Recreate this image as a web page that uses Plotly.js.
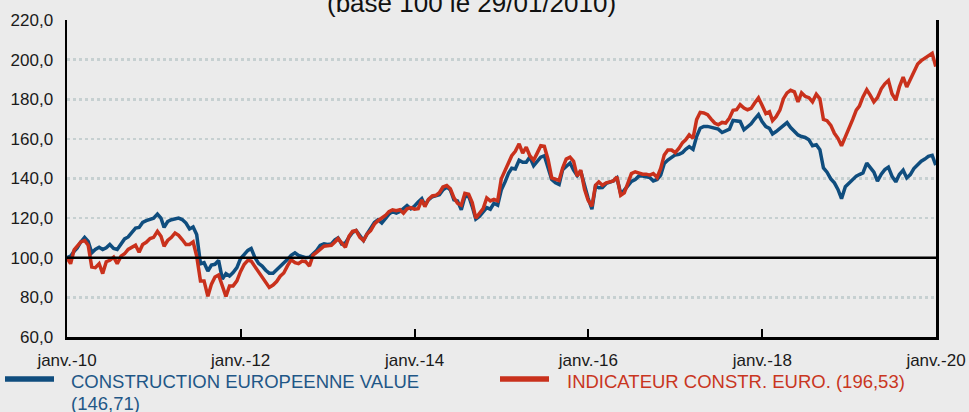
<!DOCTYPE html>
<html>
<head>
<meta charset="utf-8">
<script src="https://cdn.plot.ly/plotly-3.0.1.min.js"></script>
<style>html,body{margin:0;padding:0;background:#ebebeb;}#chart{width:969px;height:412px;}</style>
</head>
<body>
<div id="chart"></div>
<script>
const dates = [
"2010-01-29","2010-02-13","2010-02-28","2010-03-13","2010-03-28","2010-04-13","2010-04-28","2010-05-13","2010-05-28","2010-06-13","2010-06-28","2010-07-13","2010-07-28","2010-08-13","2010-08-28","2010-09-13","2010-09-28","2010-10-13","2010-10-28","2010-11-13","2010-11-28","2010-12-13","2010-12-28","2011-01-13",
"2011-01-28","2011-02-13","2011-02-28","2011-03-13","2011-03-28","2011-04-13","2011-04-28","2011-05-13","2011-05-28","2011-06-13","2011-06-28","2011-07-13","2011-07-28","2011-08-13","2011-08-28","2011-09-13","2011-09-28","2011-10-13","2011-10-28","2011-11-13","2011-11-28","2011-12-13","2011-12-28","2012-01-13",
"2012-01-28","2012-02-13","2012-02-28","2012-03-13","2012-03-28","2012-04-13","2012-04-28","2012-05-13","2012-05-28","2012-06-13","2012-06-28","2012-07-13","2012-07-28","2012-08-13","2012-08-28","2012-09-13","2012-09-28","2012-10-13","2012-10-28","2012-11-13","2012-11-28","2012-12-13","2012-12-28","2013-01-13",
"2013-01-28","2013-02-13","2013-02-28","2013-03-13","2013-03-28","2013-04-13","2013-04-28","2013-05-13","2013-05-28","2013-06-13","2013-06-28","2013-07-13","2013-07-28","2013-08-13","2013-08-28","2013-09-13","2013-09-28","2013-10-13","2013-10-28","2013-11-13","2013-11-28","2013-12-13","2013-12-28","2014-01-13",
"2014-01-28","2014-02-13","2014-02-28","2014-03-13","2014-03-28","2014-04-13","2014-04-28","2014-05-13","2014-05-28","2014-06-13","2014-06-28","2014-07-13","2014-07-28","2014-08-13","2014-08-28","2014-09-13","2014-09-28","2014-10-13","2014-10-28","2014-11-13","2014-11-28","2014-12-13","2014-12-28","2015-01-13",
"2015-01-28","2015-02-13","2015-02-28","2015-03-13","2015-03-28","2015-04-13","2015-04-28","2015-05-13","2015-05-28","2015-06-13","2015-06-28","2015-07-13","2015-07-28","2015-08-13","2015-08-28","2015-09-13","2015-09-28","2015-10-13","2015-10-28","2015-11-13","2015-11-28","2015-12-13","2015-12-28","2016-01-13",
"2016-01-28","2016-02-13","2016-02-28","2016-03-13","2016-03-28","2016-04-13","2016-04-28","2016-05-13","2016-05-28","2016-06-13","2016-06-28","2016-07-13","2016-07-28","2016-08-13","2016-08-28","2016-09-13","2016-09-28","2016-10-13","2016-10-28","2016-11-13","2016-11-28","2016-12-13","2016-12-28","2017-01-13",
"2017-01-28","2017-02-13","2017-02-28","2017-03-13","2017-03-28","2017-04-13","2017-04-28","2017-05-13","2017-05-28","2017-06-13","2017-06-28","2017-07-13","2017-07-28","2017-08-13","2017-08-28","2017-09-13","2017-09-28","2017-10-13","2017-10-28","2017-11-13","2017-11-28","2017-12-13","2017-12-28","2018-01-13",
"2018-01-28","2018-02-13","2018-02-28","2018-03-13","2018-03-28","2018-04-13","2018-04-28","2018-05-13","2018-05-28","2018-06-13","2018-06-28","2018-07-13","2018-07-28","2018-08-13","2018-08-28","2018-09-13","2018-09-28","2018-10-13","2018-10-28","2018-11-13","2018-11-28","2018-12-13","2018-12-28","2019-01-13",
"2019-01-28","2019-02-13","2019-02-28","2019-03-13","2019-03-28","2019-04-13","2019-04-28","2019-05-13","2019-05-28","2019-06-13","2019-06-28","2019-07-13","2019-07-28","2019-08-13","2019-08-28","2019-09-13","2019-09-28","2019-10-13","2019-10-28","2019-11-13","2019-11-28","2019-12-13","2019-12-28","2020-01-13",
"2020-01-28"
];

const constructionValue = [
100,100.8,103.3,105,108,110.3,108.3,102.5,104.2,105.3,104.2,105,106.7,104.7,104.2,107,109.5,110.5,112.5,115,115.3,117.8,118.7,119.2,
120,122,120,115.3,118.3,119.2,119.5,120,119.3,117.5,114.5,115.5,111.7,97,97.5,93.3,96.3,96.7,98.7,89.2,92,90.8,92.5,95,
99.5,102,103.7,104.7,100.3,97.2,95.8,93.7,92.2,92.2,93.8,95.7,97.3,99.2,101.2,102.5,101.2,100.8,100,100.3,102,103.7,106.2,107,
106.7,107,109,110,107,107.5,110.3,112.8,113.8,111.3,108.7,112,115,117.8,119.2,117.5,119.7,122,123.3,122.5,123.3,125,126.3,124.7,
126,128.2,129.8,126.5,129.2,130.8,131.5,131.8,134.2,135.7,134.2,129.2,128.7,124.2,130.8,131.2,125.8,119.5,120.8,122.8,125.3,124.5,127.5,126.5,
134.2,138.3,142.8,145.2,144.8,149.2,148.2,148.2,150.8,146.5,148.7,150.8,151.5,144.8,139.5,137.8,137,144.5,146.2,147.8,144.2,141.5,143.7,136.2,
130,124.5,136.1,135.3,135.4,137.5,138.3,138.8,140.3,132.4,134.1,136.6,138.5,139.5,141.2,141.2,140.8,140.5,138.8,139.5,141.7,147.6,149.3,150.5,
151.9,152.2,153.1,154.7,156.1,154.7,161.2,165.4,166.3,166.3,165.8,165.4,164.9,163.2,164.1,164.9,169.3,169,168.8,164.6,166.3,167.6,170,172.2,
168.7,166.2,165.3,162.5,163.7,165.3,167.2,168.2,165.7,163.7,162,161.2,160.7,159.5,156.5,157,154.5,145.3,143.2,139.8,137.8,134.5,129.8,135.8,
137.5,139.2,141.2,142,142.8,147.8,145.3,143.2,138.7,142.2,144.5,145.7,141.2,138.3,142,144.2,140.3,142,145,147,148.7,149.8,151.2,151.7,
146.71
];

const indicateurConstr = [
100,97,104,105.8,108,108.7,106.3,95.3,95,97,92,98,98.7,100.3,97,100.8,102,104.2,105.3,106.3,102.8,106.7,107.8,109.7,
110.3,113.3,110.8,105.8,108.7,110.3,112.5,111.3,109.2,106.7,106.7,108,100.8,88.3,88.3,80.5,86.7,90.3,91.3,85,80.5,85.8,85.8,88.3,
93,96.7,98.7,98.3,95.8,93,90,87.5,85,86.2,88,90.7,92.3,96,99,97.5,97,98.3,98,95.8,101.3,102.7,104.2,105.8,
106,106.3,108,109.7,107.5,105.3,110.8,113.3,113.7,110.3,108.7,112,113.7,117,118.7,120,121.3,123.3,124.2,123.7,124.2,122.5,124.7,125.3,
124.5,124.8,129.2,125.8,129.5,131.2,131.5,132.8,135.7,136.5,134.8,130.3,127.5,126.5,132.5,132,127.8,120,122.5,124.8,130.2,128.7,129.5,128.7,
139.8,144.2,147.8,151.5,153.7,157.5,152.8,155.8,151.5,149.2,152.8,156.5,156.2,149.5,140.3,139.5,139,145.3,149.8,150.8,148.7,141.2,144.2,134.5,
129,126,136.6,138.3,136.6,137.8,138.3,138.8,140.8,131.5,132.7,138.3,142.5,143.4,142.9,142.2,142.2,141.7,142.5,140.5,145.1,151.9,154.4,154.4,
153.1,155.3,158.1,159.5,162,160.3,169.7,173.4,173.1,172.2,170,168,167.1,168.3,168,170.5,174.4,174.7,177.3,175.6,174.7,175.4,178.1,180.7,
177,172.8,173.7,169.2,171.2,174.5,180.3,183.2,184.5,183.7,178.7,183.2,181.5,180.8,178.7,182.5,180.3,169.8,169.2,166.8,162.8,160.3,156.5,160.8,
164.5,169.8,174.5,176.5,181.2,184.8,182,178.7,180.8,185.3,187.8,189.5,182.8,179.5,186.2,191.2,186.2,190.3,194.2,197.8,199.5,200.8,202,203.2,
196.53
];

const tickDates = ["2010-01-29","2012-01-29","2014-01-29","2016-01-29","2018-01-29","2020-01-29"];
const tickLabels = ["janv.-10","janv.-12","janv.-14","janv.-16","janv.-18","janv.-20"];
const seriesNames = ["CONSTRUCTION EUROPEENNE VALUE", "(146,71)", "INDICATEUR CONSTR. EURO. (196,53)"];
const titleText = "(base 100 le 29/01/2010)";

const BLUE = "#0f4d7e", RED = "#c9311c";
const FONT = "Liberation Sans, Arial, sans-serif";

const traces = [
  {x: dates, y: constructionValue, type: "scatter", mode: "lines", name: seriesNames[0],
   line: {color: BLUE, width: 3.5}, hoverinfo: "skip"},
  {x: dates, y: indicateurConstr, type: "scatter", mode: "lines", name: seriesNames[2],
   line: {color: RED, width: 3.5}, hoverinfo: "skip"}
];

// helpers to place legend items in paper coords
const PL = 67, PW = 869, PB = 337, PH = 317;
const px = v => (v - PL) / PW;
const py = v => (PB - v) / PH;

const layout = {
  width: 969, height: 412,
  paper_bgcolor: "#ebebeb", plot_bgcolor: "#ebebeb",
  margin: {l: 67, r: 33, t: 20, b: 75, pad: 0},
  separators: ", ",
  showlegend: false,
  font: {family: FONT, color: "#1a1a1a"},
  xaxis: {
    type: "date", range: ["2010-01-29", "2020-01-29"],
    tickmode: "array", tickvals: tickDates, ticktext: tickLabels,
    ticks: "inside", ticklen: 8, tickwidth: 2, tickcolor: "#000",
    showgrid: false, zeroline: false,
    showline: true, linecolor: "#000", linewidth: 3,
    tickfont: {family: FONT, size: 17, color: "#1a1a1a"},
    ticklabelstandoff: 6, fixedrange: true
  },
  yaxis: {
    range: [60, 220], tick0: 60, dtick: 20, tickformat: ".1f",
    showgrid: true, gridcolor: "#c6d0d1", gridwidth: 2.5, griddash: "dot",
    zeroline: false, ticks: "",
    showline: true, mirror: true, linecolor: "#000", linewidth: 2.5,
    tickfont: {family: FONT, size: 17, color: "#1a1a1a"},
    ticklabelstandoff: 8, fixedrange: true
  },
  shapes: [
    {type: "line", xref: "paper", yref: "y", x0: 0, x1: 1, y0: 100, y1: 100,
     line: {color: "#000", width: 2.5}, layer: "above"},
    {type: "line", xref: "paper", yref: "paper", x0: px(5), x1: px(54), y0: py(379), y1: py(379),
     line: {color: BLUE, width: 5.5}},
    {type: "line", xref: "paper", yref: "paper", x0: px(500), x1: px(549), y0: py(379), y1: py(379),
     line: {color: RED, width: 5.5}}
  ],
  annotations: [
    {text: titleText, xref: "paper", yref: "paper", x: px(471), y: py(3), xanchor: "center", yanchor: "middle",
     showarrow: false, font: {family: FONT, size: 26, color: "#111"}},
    {text: seriesNames[0], xref: "paper", yref: "paper", x: px(69), y: py(381.5), xanchor: "left", yanchor: "middle",
     showarrow: false, font: {family: FONT, size: 18.5, color: "#1f5787"}},
    {text: seriesNames[1], xref: "paper", yref: "paper", x: px(69), y: py(403), xanchor: "left", yanchor: "middle",
     showarrow: false, font: {family: FONT, size: 18.5, color: "#1f5787"}},
    {text: seriesNames[2], xref: "paper", yref: "paper", x: px(565), y: py(381.5), xanchor: "left", yanchor: "middle",
     showarrow: false, font: {family: FONT, size: 18.5, color: "#c9361f"}}
  ]
};

Plotly.newPlot("chart", traces, layout, {displayModeBar: false, staticPlot: true});
</script>
</body>
</html>
